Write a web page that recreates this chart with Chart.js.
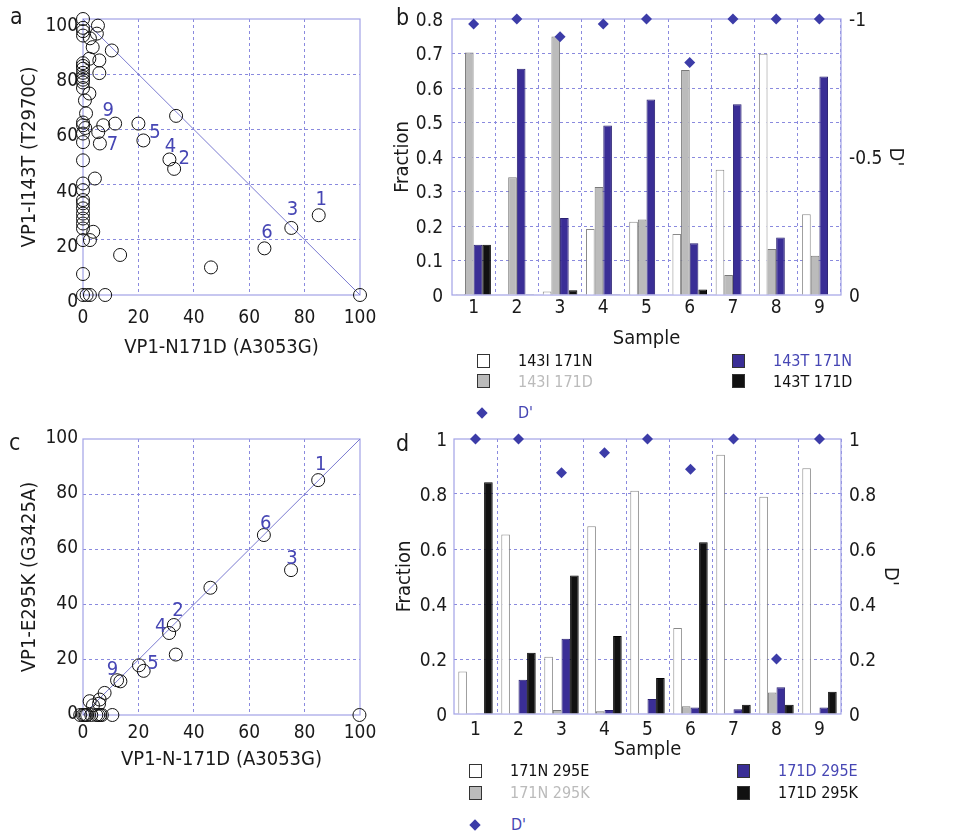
<!DOCTYPE html>
<html>
<head>
<meta charset="utf-8">
<script src="https://cdn.jsdelivr.net/npm/chart.js@4.4.1/dist/chart.umd.min.js"></script>
<style>
  html, body { margin: 0; padding: 0; background: #ffffff; }
  body { width: 974px; height: 834px; position: relative; overflow: hidden;
         font-family: 'DejaVu Sans Condensed', 'DejaVu Sans', sans-serif; color: #1a1a1a; }
  .pane { position: absolute; }
  .letter { position: absolute; font-size: 23px; line-height: 1; color: #1a1a1a; }
  .sq { position: absolute; width: 13px; height: 14px; box-sizing: border-box; border: 1px solid #333; }
  .dia { position: absolute; width: 8px; height: 8px; background: #3c3ca8; transform: rotate(45deg); }
  .lt { position: absolute; font-size: 16px; line-height: 1; white-space: nowrap; }
</style>
</head>
<body>
<div class="pane" style="left:0;top:0"><canvas id="ca" width="380" height="370"></canvas></div>
<div class="pane" style="left:380px;top:0"><canvas id="cb" width="594" height="360"></canvas></div>
<div class="pane" style="left:0;top:420px"><canvas id="cc" width="380" height="370"></canvas></div>
<div class="pane" style="left:380px;top:420px"><canvas id="cd" width="594" height="360"></canvas></div>

<div class="letter" style="left:10px;top:5px">a</div>
<div class="letter" style="left:396px;top:6px">b</div>
<div class="letter" style="left:9px;top:431px">c</div>
<div class="letter" style="left:396px;top:432px">d</div>

<!-- legend b -->
<div class="sq" style="left:477px;top:354px;background:#ffffff"></div>
<div class="lt" style="left:518px;top:353px;color:#111">143I 171N</div>
<div class="sq" style="left:477px;top:374px;background:#bbbbbb"></div>
<div class="lt" style="left:518px;top:374px;color:#bbbbbb">143I 171D</div>
<div class="sq" style="left:732px;top:354px;background:#3a2e96"></div>
<div class="lt" style="left:773px;top:353px;color:#4646b4">143T 171N</div>
<div class="sq" style="left:732px;top:374px;background:#111111"></div>
<div class="lt" style="left:773px;top:374px;color:#111">143T 171D</div>
<div class="dia" style="left:478px;top:409px"></div>
<div class="lt" style="left:518px;top:405px;color:#4646b4">D'</div>

<!-- legend d -->
<div class="sq" style="left:469px;top:764px;background:#ffffff"></div>
<div class="lt" style="left:510px;top:763px;color:#111">171N 295E</div>
<div class="sq" style="left:469px;top:786px;background:#bbbbbb"></div>
<div class="lt" style="left:510px;top:785px;color:#bbbbbb">171N 295K</div>
<div class="sq" style="left:737px;top:764px;background:#3a2e96"></div>
<div class="lt" style="left:778px;top:763px;color:#4646b4">171D 295E</div>
<div class="sq" style="left:737px;top:786px;background:#111111"></div>
<div class="lt" style="left:778px;top:785px;color:#111">171D 295K</div>
<div class="dia" style="left:471px;top:821px"></div>
<div class="lt" style="left:511px;top:817px;color:#4646b4">D'</div>

<script>
// ---------------- DATA ----------------
// Panel a: VP1-N171D (x, %) vs VP1-I143T (y, %)
const aX = [0, 0, 0, 0, 5.4, 5, 2.5, 3.5, 10.4, 2.3, 5.9, 5.9,
            0, 0, 0, 0, 0, 0, 0, 0,
            2.3, 0.7, 1.1,
            0, 0, 0.8, 0, 0, 0, 4.3, 0, 0, 0, 0, 0, 0, 0, 0, 0, 3.7, 0, 2.5, 13.4, 0,
            0, 1.3, 2.5, 8, 100,
            5.5, 6.1, 7.3, 11.6, 20, 21.8, 31.2, 32.9, 33.6, 75.2, 85.1, 65.5, 46.2];
const aY = [100, 96.8, 95.6, 94, 97.6, 94.7, 93, 89.8, 88.6, 85.6, 85, 80.4,
            84, 83, 82, 80.5, 79, 78, 77, 75,
            73, 70.5, 65.8,
            62.5, 61.5, 60.5, 58.5, 55.4, 48.8, 42.2, 40.4, 38, 34.4, 33.2, 31.4, 29.5, 27.7, 25.9, 24.1, 22.9, 19.9, 19.9, 14.5, 7.6,
            0, 0, 0, 0, 0,
            59, 54.9, 61.5, 62.1, 62.1, 56, 49.1, 45.7, 64.9, 24.3, 28.9, 16.9, 10];
const aLineX = [0, 100];
const aLineY = [100, 0];
const aLabText = ['1', '3', '6', '9', '7', '5', '4', '2'];
const aLabX = [86, 75.6, 66.4, 9.1, 10.6, 26, 31.6, 36.5];
const aLabY = [34.5, 30.9, 22.4, 66.7, 54.4, 58.6, 53.8, 49.2];

// Panel c: VP1-N-171D (x, %) vs VP1-E295K (y, %)
const cX = [84.9, 65.3, 75.1, 46, 32.8, 31.1, 33.5, 20.2, 21.9, 12.3, 13.5, 7.8, 6, 5.8, 2.4, 3.6, 99.8,
            -1, 0, 0.5, 1, 1.5, 3, 4.8, 5.5, 6.2, 6.8, 10.6];
const cY = [85.1, 65.2, 52.5, 46.1, 32.6, 29.7, 21.9, 18, 16, 12.6, 12.2, 8, 5.6, 4.1, 5, 3.5, 0,
            0, 0, 0, 0, 0, 0, 0, 0, 0, 0, 0];
const cLineX = [0, 100];
const cLineY = [0, 100];
const cLabText = ['1', '6', '3', '2', '4', '5', '9'];
const cLabX = [85.8, 66, 75.4, 34.3, 28.1, 25.3, 10.6];
const cLabY = [90.6, 69.2, 56.7, 37.7, 31.9, 18.4, 16.2];

// Panels b and d
const samples = ['1', '2', '3', '4', '5', '6', '7', '8', '9'];
const b143I171N = [0.003, 0, 0.01, 0.191, 0.212, 0.177, 0.363, 0.699, 0.234];
const b143I171D = [0.703, 0.341, 0.749, 0.313, 0.219, 0.652, 0.058, 0.133, 0.114];
const b143T171N = [0.146, 0.656, 0.223, 0.491, 0.567, 0.15, 0.553, 0.167, 0.633];
const b143T171D = [0.146, 0.002, 0.0135, 0.002, 0, 0.016, 0, 0, 0];
const bDprime   = [-0.982, -1, -0.936, -0.982, -1, -0.842, -1, -1, -1];

const d171N295E = [0.155, 0.653, 0.208, 0.683, 0.812, 0.313, 0.943, 0.79, 0.894];
const d171N295K = [0, 0, 0.015, 0.01, 0, 0.028, 0, 0.078, 0];
const d171D295E = [0.003, 0.125, 0.274, 0.015, 0.055, 0.024, 0.017, 0.097, 0.024];
const d171D295K = [0.843, 0.223, 0.504, 0.284, 0.131, 0.625, 0.034, 0.034, 0.081];
const dDprime   = [1, 1, 0.877, 0.95, 1, 0.89, 1, 0.2, 1];

// ---------------- STYLE ----------------
const FF = "'DejaVu Sans Condensed', 'DejaVu Sans', sans-serif";
const GRID = '#8a8ade';
const FRAME = '#a2a2e6';
const TXT = '#1a1a1a';
const LBL = '#4646b4';
const DIA = '#3c3ca8';
const DASH = [3, 3];
Chart.defaults.font.family = FF;
Chart.defaults.color = TXT;
Chart.defaults.animation = false;

const tickFont = { family: FF, size: 19 };
const titleFont = { family: FF, size: 20 };

function fmt(v) { return String(Math.round(v * 1000) / 1000); }

function gridColor(c) {
  const s = c.scale;
  const last = (s.options.grid && s.options.grid.offset) ? s.ticks.length : s.ticks.length - 1;
  return (c.index === 0 || c.index === last) ? 'rgba(0,0,0,0)' : GRID;
}

function noPad(s) { s.paddingLeft = 0; s.paddingRight = 0; s.paddingTop = 0; s.paddingBottom = 0; }

const framePlugin = {
  id: 'frame',
  beforeDatasetsDraw(chart) {
    const a = chart.chartArea, ctx = chart.ctx;
    ctx.save();
    ctx.strokeStyle = FRAME;
    ctx.lineWidth = 1.2;
    ctx.strokeRect(a.left, a.top, a.right - a.left, a.bottom - a.top);
    ctx.restore();
  }
};

const labelPlugin = {
  id: 'ptLabels',
  afterDatasetsDraw(chart, args, opts) {
    if (!opts || !opts.texts) return;
    const ctx = chart.ctx, xs = chart.scales.x, ys = chart.scales.y;
    ctx.save();
    ctx.font = '20px ' + FF;
    ctx.fillStyle = LBL;
    ctx.textAlign = 'center';
    ctx.textBaseline = 'middle';
    opts.texts.forEach((t, i) => {
      ctx.fillText(t, xs.getPixelForValue(opts.xs[i]), ys.getPixelForValue(opts.ys[i]));
    });
    ctx.restore();
  }
};

function zip(xs, ys) { return xs.map((x, i) => ({ x: x, y: ys[i] })); }

function scatter(id, xs, ys, lx, ly, labT, labX, labY, xTitle, yTitle, geo) {
  new Chart(document.getElementById(id), {
    type: 'scatter',
    data: {
      datasets: [
        { data: zip(lx, ly), showLine: true, borderColor: '#7a7ad0', borderWidth: 1,
          pointRadius: 0, fill: false, clip: false, order: 2 },
        { data: zip(xs, ys), pointStyle: 'circle', pointRadius: 6.5, pointBorderWidth: 1,
          pointBorderColor: '#111111', pointBackgroundColor: 'rgba(0,0,0,0)', clip: false, order: 1 }
      ]
    },
    options: {
      responsive: false,
      animation: false,
      layout: { padding: { left: 0, top: 19, right: 20, bottom: 0 } },
      plugins: { legend: { display: false }, tooltip: { enabled: false },
                 ptLabels: { texts: labT, xs: labX, ys: labY } },
      scales: {
        x: {
          type: 'linear', min: 0, max: 100,
          ticks: { stepSize: 20, font: tickFont, color: TXT, padding: geo.xTickPad, callback: fmt },
          grid: { color: gridColor, lineWidth: 1, drawTicks: false },
          border: { display: false, dash: DASH },
          title: { display: true, text: xTitle, font: titleFont, color: TXT,
                   padding: { top: 0, bottom: geo.xTitlePad } },
          afterFit(s) { s.height = 75; noPad(s); }
        },
        y: {
          type: 'linear', min: 0, max: 100,
          ticks: { stepSize: 20, font: tickFont, color: TXT, padding: 5, labelOffset: geo.yLabelOffset, callback: fmt },
          grid: { color: gridColor, lineWidth: 1, drawTicks: false },
          border: { display: false, dash: DASH },
          title: { display: true, text: yTitle, font: titleFont, color: TXT,
                   padding: { top: 18, bottom: 0 } },
          afterFit(s) { s.width = 83; noPad(s); }
        }
      }
    },
    plugins: [framePlugin, labelPlugin]
  });
}

function bars(id, series, dp, yMax, yStep, y2, geo) {
  const colors = [
    { bg: '#ffffff', bd: '#8a8a8a' },
    { bg: '#bbbbbb', bd: '#7a7a7a' },
    { bg: '#3a2e96', bd: '#2a2072' },
    { bg: '#111111', bd: '#000000' }
  ];
  const ds = series.map((vals, i) => ({
    type: 'bar', data: vals, yAxisID: 'y', backgroundColor: colors[i].bg,
    borderColor: colors[i].bd, borderWidth: 1, categoryPercentage: 0.8, barPercentage: 1.0, order: 2
  }));
  ds.push({ type: 'line', data: dp, yAxisID: 'y2', showLine: false, pointStyle: 'rectRot',
            pointRadius: 5.5, pointBackgroundColor: DIA, pointBorderColor: DIA, pointBorderWidth: 0,
            clip: false, order: 1 });
  new Chart(document.getElementById(id), {
    type: 'bar',
    data: { labels: samples, datasets: ds },
    options: {
      responsive: false,
      animation: false,
      layout: { padding: { left: 0, top: 19, right: 0, bottom: 0 } },
      plugins: { legend: { display: false }, tooltip: { enabled: false } },
      scales: {
        x: {
          type: 'category', offset: true,
          ticks: { font: tickFont, color: TXT, padding: geo.xTickPad },
          grid: { offset: true, color: gridColor, lineWidth: 1, drawTicks: false },
          border: { display: false, dash: DASH },
          title: { display: true, text: 'Sample', font: titleFont, color: TXT,
                   padding: { top: 0, bottom: geo.xTitlePad } },
          afterFit(s) { s.height = geo.xH; noPad(s); }
        },
        y: {
          type: 'linear', position: 'left', min: 0, max: yMax,
          ticks: { stepSize: yStep, font: tickFont, color: TXT, padding: geo.yTickPad, labelOffset: 2, callback: fmt },
          grid: { color: gridColor, lineWidth: 1, drawTicks: false },
          border: { display: false, dash: DASH },
          title: { display: true, text: 'Fraction', font: titleFont, color: TXT,
                   padding: { top: geo.yTitlePad, bottom: 0 } },
          afterFit(s) { s.width = geo.yW; noPad(s); }
        },
        y2: {
          type: 'linear', position: 'right', min: y2.min, max: y2.max, reverse: y2.reverse,
          ticks: { stepSize: y2.step, font: tickFont, color: TXT, padding: 8, labelOffset: 2, callback: fmt },
          grid: { drawOnChartArea: false, drawTicks: false },
          border: { display: false },
          title: { display: true, text: "D'", font: titleFont, color: TXT,
                   padding: { top: geo.y2TitlePad, bottom: 0 } },
          afterFit(s) { s.width = geo.y2W; noPad(s); }
        }
      }
    },
    plugins: [framePlugin]
  });
}

scatter('ca', aX, aY, aLineX, aLineY, aLabText, aLabX, aLabY,
        'VP1-N171D (A3053G)', 'VP1-I143T (T2970C)',
        { xTickPad: 11.6, xTitlePad: 10, yLabelOffset: 7 });
scatter('cc', cX, cY, cLineX, cLineY, cLabText, cLabX, cLabY,
        'VP1-N-171D (A3053G)', 'VP1-E295K (G3425A)',
        { xTickPad: 6.6, xTitlePad: 18, yLabelOffset: -1 });

bars('cb', [b143I171N, b143I171D, b143T171N, b143T171D], bDprime, 0.8, 0.1,
     { min: -1, max: 0, reverse: true, step: 0.5 },
     { xTickPad: 1.6, xTitlePad: 9, xH: 65, yW: 72, yTickPad: 9, yTitlePad: 11, y2W: 133, y2TitlePad: 67 });
bars('cd', [d171N295E, d171N295K, d171D295E, d171D295K], dDprime, 1, 0.2,
     { min: 0, max: 1, reverse: false, step: 0.2 },
     { xTickPad: 4.6, xTitlePad: 18, xH: 66, yW: 74, yTickPad: 7, yTitlePad: 13, y2W: 133, y2TitlePad: 72 });
</script>
</body>
</html>
